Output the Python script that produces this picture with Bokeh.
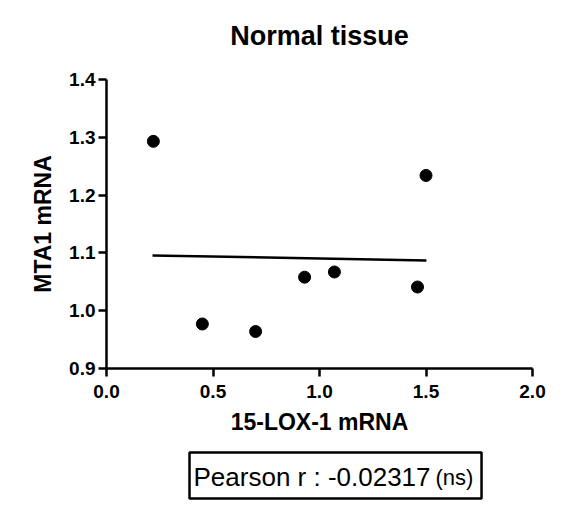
from bokeh.plotting import figure
from bokeh.models import Label, FixedTicker
from bokeh.layouts import column
from bokeh.embed import file_html
from bokeh.resources import INLINE

# Data
lox_mrna = [0.22, 0.45, 0.70, 0.93, 1.07, 1.46, 1.50]
mta1_mrna = [1.293, 0.977, 0.964, 1.058, 1.067, 1.041, 1.234]
fit_x = [0.216, 1.502]
fit_y = [1.0955, 1.087]
x_ticks = [0.0, 0.5, 1.0, 1.5, 2.0]
x_tick_labels = ["0.0", "0.5", "1.0", "1.5", "2.0"]
y_ticks = [0.9, 1.0, 1.1, 1.2, 1.3, 1.4]
y_tick_labels = ["0.9", "1.0", "1.1", "1.2", "1.3", "1.4"]
title_text = "Normal tissue"
x_label = "15-LOX-1 mRNA"
y_label = "MTA1 mRNA"
stat_text = "Pearson r : -0.02317"
stat_note = "(ns)"

FONT = "Liberation Sans"


def text_panel(height):
    f = figure(width=585, height=height, x_range=(106, 532), y_range=(0, height),
               output_backend="svg", toolbar_location=None,
               min_border_left=106, min_border_right=53, min_border_top=0, min_border_bottom=0)
    f.axis.visible = False
    f.grid.visible = False
    f.outline_line_color = None
    f.background_fill_color = "white"
    f.border_fill_color = "white"
    return f


# Title panel (frame aligned with the chart frame, x range reads in page pixels)
t = text_panel(67)
t.add_layout(Label(x=319, y=32, text=title_text, text_align="center", text_baseline="middle",
                   text_font=FONT, text_font_size="27px", text_font_style="bold",
                   text_color="black"))

p = figure(width=585, height=378, x_range=(0, 2), y_range=(0.9, 1.4),
           output_backend="svg", toolbar_location=None,
           min_border_left=106, min_border_right=53,
           min_border_top=12, min_border_bottom=77)
p.background_fill_color = "white"
p.border_fill_color = "white"
p.outline_line_color = None
p.xgrid.visible = False
p.ygrid.visible = False

for ax, ticks, labels in ((p.xaxis[0], x_ticks, x_tick_labels), (p.yaxis[0], y_ticks, y_tick_labels)):
    ax.ticker = FixedTicker(ticks=ticks)
    ax.major_label_overrides = {t_: l for t_, l in zip(ticks, labels)}
    ax.axis_line_width = 2.5
    ax.axis_line_color = "black"
    ax.major_tick_line_width = 2.5
    ax.major_tick_line_color = "black"
    ax.minor_tick_line_color = None
    ax.major_tick_in = 0
    ax.major_tick_out = 8
    ax.major_label_text_font = FONT
    ax.major_label_text_font_size = "19px"
    ax.major_label_text_font_style = "bold"
    ax.major_label_text_color = "black"
    ax.axis_label_text_font = FONT
    ax.axis_label_text_font_size = "23px"
    ax.axis_label_text_font_style = "bold"
    ax.axis_label_text_color = "black"

p.xaxis.axis_label = x_label
p.yaxis.axis_label = y_label
p.xaxis.major_label_standoff = 8
p.xaxis.axis_label_standoff = 8
p.yaxis.major_label_standoff = 3
p.yaxis.axis_label_standoff = 10

p.line(fit_x, fit_y, line_color="black", line_width=2.5)
p.scatter(lox_mrna, mta1_mrna, size=12, marker="circle", fill_color="black", line_color="black")

# Statistics box panel below the chart
s = text_panel(63)
s.add_layout(Label(x=189, y=33, text=stat_text, text_align="left", text_baseline="middle",
                   text_font=FONT, text_font_size="26px", text_color="black",
                   border_line_color="black", border_line_width=2.5,
                   background_fill_color="white",
                   padding=dict(left=4, right=51, top=9, bottom=7)))
s.add_layout(Label(x=435, y=31, text=stat_note, text_align="left", text_baseline="middle",
                   text_font=FONT, text_font_size="22px", text_color="black"))

layout = column(t, p, s, spacing=0)
open("out.html", "w").write(file_html(layout, INLINE))
